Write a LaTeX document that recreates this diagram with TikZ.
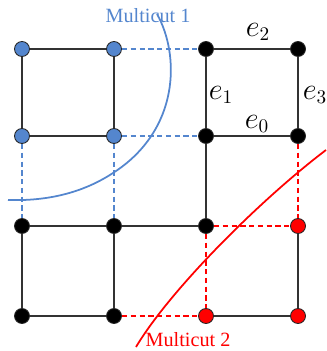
\documentclass[tikz,border=0pt]{standalone}
\usepackage{fontspec}
\setmainfont{Liberation Serif}
\definecolor{mcblue}{RGB}{84,134,206}
\begin{document}
\begin{tikzpicture}[x=0.02cm,y=-0.02cm,
  vertex/.style={circle,draw=black!85,line width=0.5pt,minimum size=0.3cm,inner sep=0pt},
  edge/.style={line width=0.8pt,black!80},
  cutone/.style={line width=0.8pt,densely dashed,mcblue},
  cuttwo/.style={line width=0.8pt,densely dashed,red},
  elabel/.style={font=\fontsize{16}{18}\selectfont},
  cutname/.style={font=\fontsize{11.5}{13}\selectfont,inner sep=1pt}]
\useasboundingbox (0,0) rectangle (327,351);
\node[vertex,fill=mcblue] (a1) at (22,49) {};
\node[vertex,fill=mcblue] (b1) at (114,49) {};
\node[vertex,fill=black] (c1) at (206,49) {};
\node[vertex,fill=black] (d1) at (298,49) {};
\node[vertex,fill=mcblue] (a2) at (22,136) {};
\node[vertex,fill=mcblue] (b2) at (114,136) {};
\node[vertex,fill=black] (c2) at (206,136) {};
\node[vertex,fill=black] (d2) at (298,136) {};
\node[vertex,fill=black] (a3) at (22,226) {};
\node[vertex,fill=black] (b3) at (114,226) {};
\node[vertex,fill=black] (c3) at (206,226) {};
\node[vertex,fill=red] (d3) at (298,226) {};
\node[vertex,fill=black] (a4) at (22,316) {};
\node[vertex,fill=black] (b4) at (114,316) {};
\node[vertex,fill=red] (c4) at (206,316) {};
\node[vertex,fill=red] (d4) at (298,316) {};
% kept edges
\draw[edge] (a1) -- (b1);
\draw[edge] (c1) -- (d1);
\draw[edge] (a2) -- (b2);
\draw[edge] (c2) -- (d2);
\draw[edge] (a3) -- (b3);
\draw[edge] (b3) -- (c3);
\draw[edge] (a4) -- (b4);
\draw[edge] (c4) -- (d4);
\draw[edge] (a1) -- (a2);
\draw[edge] (b1) -- (b2);
\draw[edge] (c1) -- (c2);
\draw[edge] (d1) -- (d2);
\draw[edge] (c2) -- (c3);
\draw[edge] (a3) -- (a4);
\draw[edge] (b3) -- (b4);
\draw[edge] (d3) -- (d4);
% cut edges
\draw[cutone] (b1) -- (c1);
\draw[cutone] (b2) -- (c2);
\draw[cutone] (a2) -- (a3);
\draw[cutone] (b2) -- (b3);
\draw[cuttwo] (d2) -- (d3);
\draw[cuttwo] (c3) -- (d3);
\draw[cuttwo] (c3) -- (c4);
\draw[cuttwo] (b4) -- (c4);
% edge labels
\node[elabel] (e2) at (258,32) {$e_2$};
\node[elabel] (e1) at (221,95) {$e_1$};
\node[elabel] (e3) at (315,95) {$e_3$};
\node[elabel] (e0) at (257,124) {$e_0$};
% cut curves
\draw[mcblue,line width=1pt] (157,14) .. controls (180,55) and (180,130) .. (113,173)
  .. controls (78,196) and (40,201) .. (8,200);
\draw[red,line width=1pt] (136,347) .. controls (170,290) and (260,200) .. (326,150);
\node[cutname,mcblue] (m1) at (148,16) {Multicut 1};
\node[cutname,red,anchor=base] (m2) at (188,346) {Multicut 2};
\end{tikzpicture}
\end{document}
